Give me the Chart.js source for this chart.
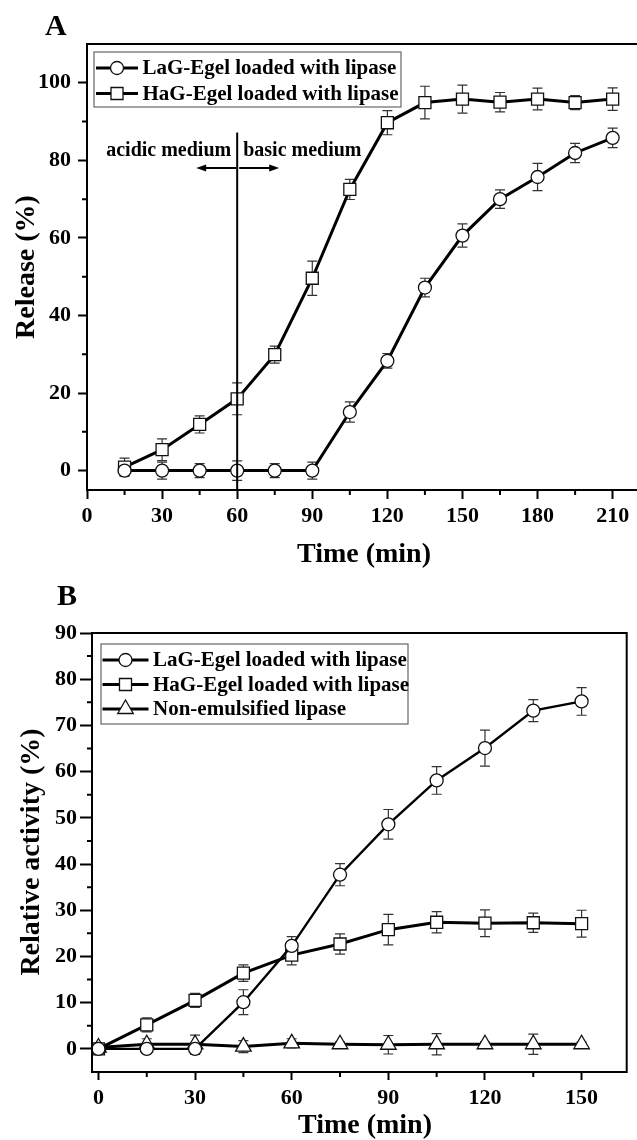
<!DOCTYPE html>
<html>
<head>
<meta charset="utf-8">
<script src="https://cdn.jsdelivr.net/npm/chart.js@4.4.1/dist/chart.umd.min.js"></script>
<style>
html, body { margin: 0; padding: 0; background: #fff; overflow: hidden; width: 637px; height: 1140px; }
canvas { position: absolute; left: 0; }
#chartA { top: 0; }
#chartB { top: 575px; }
</style>
</head>
<body>
<canvas id="chartA" width="660" height="575"></canvas>
<canvas id="chartB" width="637" height="565"></canvas>
<script>
/*********************** Data ************************/
// panel A - release
var timeA = [15, 30, 45, 60, 75, 90, 105, 120, 135, 150, 165, 180, 195, 210];
var lagRelease = [0, 0, 0, 0, 0, 0, 15.1, 28.3, 47.2, 60.6, 70.0, 75.7, 81.9, 85.8];
var lagReleaseErr = [1.2, 2.2, 1.8, 2.5, 1.8, 2.2, 2.6, 1.9, 2.4, 3.0, 2.4, 3.5, 2.5, 2.5];
var hagRelease = [0.9, 5.4, 11.9, 18.5, 29.9, 49.6, 72.5, 89.7, 94.9, 95.8, 95.0, 95.8, 94.9, 95.8];
var hagReleaseErr = [2.3, 2.8, 2.2, 4.1, 2.2, 4.4, 2.6, 3.1, 4.2, 3.6, 2.5, 2.8, 1.8, 2.9];

// panel B - relative activity
var timeB = [0, 15, 30, 45, 60, 75, 90, 105, 120, 135, 150];
var lagActivity = [0, 0, 0, 10.1, 22.3, 37.7, 48.6, 58.1, 65.1, 73.2, 75.2];
var lagActivityErr = [0.8, 1.0, 1.2, 2.7, 2.0, 2.4, 3.2, 3.0, 3.9, 2.4, 3.0];
var hagActivity = [0, 5.2, 10.5, 16.4, 20.3, 22.7, 25.8, 27.4, 27.2, 27.3, 27.1];
var hagActivityErr = [0.5, 1.5, 1.5, 1.8, 2.1, 2.2, 3.3, 2.3, 2.9, 2.1, 2.9];
var freeActivity = [0.3, 1.0, 1.0, 0.5, 1.2, 1.0, 0.9, 1.0, 1.0, 1.0, 1.0];
var freeActivityErr = [0.5, 1.2, 2.0, 1.3, 1.0, 0.5, 2.0, 2.3, 0.5, 2.2, 0.5];

var labelLaG = 'LaG-Egel loaded with lipase';
var labelHaG = 'HaG-Egel loaded with lipase';
var labelFree = 'Non-emulsified lipase';

var FONT = "'Liberation Serif', 'Times New Roman', serif";

Chart.defaults.font.family = FONT;
Chart.defaults.font.weight = 'bold';
Chart.defaults.font.size = 22;
Chart.defaults.color = '#000';
Chart.defaults.animation = false;

function points(xs, ys) {
    return xs.map(function (x, i) { return { x: x, y: ys[i] }; });
}

function drawMarker(ctx, style, r, x, y) {
    ctx.beginPath();
    if (style === 'rect') {
        var s = r * Math.SQRT1_2;
        ctx.rect(x - s, y - s, 2 * s, 2 * s);
    } else if (style === 'triangle') {
        for (var k = 0; k < 3; k++) {
            var a = k * 2 * Math.PI / 3;
            var px = x + Math.sin(a) * r, py = y - Math.cos(a) * r;
            if (k === 0) ctx.moveTo(px, py); else ctx.lineTo(px, py);
        }
        ctx.closePath();
    } else {
        ctx.arc(x, y, r, 0, Math.PI * 2);
    }
    ctx.fill();
    ctx.stroke();
}

/*********************** Plugins ************************/
// error bars, drawn under the markers
var errorBars = {
    id: 'errorBars',
    beforeDatasetsDraw: function (chart) {
        var ctx = chart.ctx, ys = chart.scales.y;
        ctx.save();
        ctx.strokeStyle = '#333';
        ctx.lineWidth = 1.2;
        chart.data.datasets.forEach(function (ds, di) {
            if (!ds.errors) return;
            var meta = chart.getDatasetMeta(di);
            meta.data.forEach(function (pt, i) {
                var v = ds.data[i].y, e = ds.errors[i];
                var top = ys.getPixelForValue(v + e), bot = ys.getPixelForValue(v - e);
                ctx.beginPath();
                ctx.moveTo(pt.x, top); ctx.lineTo(pt.x, bot);
                ctx.moveTo(pt.x - 5, top); ctx.lineTo(pt.x + 5, top);
                ctx.moveTo(pt.x - 5, bot); ctx.lineTo(pt.x + 5, bot);
                ctx.stroke();
            });
        });
        ctx.restore();
    }
};

// box frame + minor ticks
var frame = {
    id: 'frame',
    afterDraw: function (chart, args, o) {
        var ctx = chart.ctx, a = chart.chartArea;
        var xs = chart.scales.x, ys = chart.scales.y, v, p;
        ctx.save();
        ctx.strokeStyle = '#000';
        ctx.lineWidth = 2;
        ctx.strokeRect(a.left, a.top, a.right - a.left, a.bottom - a.top);
        ctx.beginPath();
        for (v = Math.ceil(xs.min / o.xMinor) * o.xMinor; v < xs.max; v += o.xMinor) {
            if (v <= xs.min || v % (2 * o.xMinor) === 0) continue;
            p = xs.getPixelForValue(v);
            ctx.moveTo(p, a.bottom); ctx.lineTo(p, a.bottom + o.minorLen);
        }
        for (v = Math.ceil(ys.min / o.yMinor) * o.yMinor; v < ys.max; v += o.yMinor) {
            if (v <= ys.min || v % (2 * o.yMinor) === 0) continue;
            p = ys.getPixelForValue(v);
            ctx.moveTo(a.left, p); ctx.lineTo(a.left - o.minorLen, p);
        }
        ctx.stroke();
        ctx.restore();
    }
};

// legend with line-marker-line samples inside a box
var boxLegend = {
    id: 'boxLegend',
    afterDraw: function (chart, args, o) {
        var ctx = chart.ctx;
        ctx.save();
        ctx.strokeStyle = '#666';
        ctx.lineWidth = 1.2;
        ctx.strokeRect(o.left, o.top, o.width, o.height);
        chart.data.datasets.forEach(function (ds, i) {
            var cy = o.firstRow + i * o.rowHeight;
            ctx.strokeStyle = '#000';
            ctx.lineWidth = 3;
            ctx.beginPath();
            ctx.moveTo(o.left + o.lineStart, cy);
            ctx.lineTo(o.left + o.lineStart + o.lineLength, cy);
            ctx.stroke();
            ctx.fillStyle = '#fff';
            ctx.strokeStyle = '#111';
            ctx.lineWidth = 1.3;
            drawMarker(ctx, ds.pointStyle, ds.pointRadius, o.left + o.lineStart + o.lineLength / 2, cy);
            ctx.fillStyle = '#000';
            ctx.font = 'bold ' + o.fontSize + 'px ' + FONT;
            ctx.textAlign = 'left';
            ctx.textBaseline = 'middle';
            ctx.fillText(ds.label, o.left + o.textStart, cy + 1);
        });
        ctx.restore();
    }
};

// panel letter and axis titles
var panelTitles = {
    id: 'panelTitles',
    afterDraw: function (chart, args, o) {
        var ctx = chart.ctx;
        ctx.save();
        ctx.fillStyle = '#000';
        ctx.font = 'bold 30px ' + FONT;
        ctx.textAlign = 'left';
        ctx.textBaseline = 'alphabetic';
        ctx.fillText(o.letter, o.letterX, o.letterY);
        ctx.font = 'bold 28px ' + FONT;
        ctx.textAlign = 'center';
        ctx.textBaseline = 'middle';
        ctx.fillText(o.xTitle, o.xTitleX, o.xTitleY);
        ctx.translate(o.yTitleX, o.yTitleY);
        ctx.rotate(-Math.PI / 2);
        ctx.fillText(o.yTitle, 0, 0);
        ctx.restore();
    }
};

// acidic / basic medium divider for panel A
var mediumNote = {
    id: 'mediumNote',
    afterDatasetsDraw: function (chart, args, o) {
        if (!o.at) return;
        var ctx = chart.ctx, xs = chart.scales.x, ys = chart.scales.y;
        var px = xs.getPixelForValue(o.at);
        ctx.save();
        ctx.strokeStyle = '#000';
        ctx.fillStyle = '#000';
        ctx.lineWidth = 2;
        ctx.beginPath();
        ctx.moveTo(px, chart.chartArea.bottom);
        ctx.lineTo(px, ys.getPixelForValue(o.lineTop));
        ctx.stroke();

        ctx.font = 'bold 20px ' + FONT;
        ctx.textBaseline = 'middle';
        var ty = ys.getPixelForValue(o.textAt);
        ctx.textAlign = 'right';
        ctx.fillText(o.leftText, px - 6, ty);
        ctx.textAlign = 'left';
        ctx.fillText(o.rightText, px + 6, ty);

        var ay = ys.getPixelForValue(o.arrowAt);
        [[px - 1, px - 41], [px + 2, px + 42]].forEach(function (seg) {
            var dir = seg[1] > seg[0] ? 1 : -1;
            ctx.beginPath();
            ctx.moveTo(seg[0], ay);
            ctx.lineTo(seg[1] - dir * 6, ay);
            ctx.stroke();
            ctx.beginPath();
            ctx.moveTo(seg[1], ay);
            ctx.lineTo(seg[1] - dir * 10, ay - 3.5);
            ctx.lineTo(seg[1] - dir * 10, ay + 3.5);
            ctx.closePath();
            ctx.fill();
        });
        ctx.restore();
    }
};

function series(label, xs, ys, errs, style, radius, width) {
    return {
        label: label,
        data: points(xs, ys),
        errors: errs,
        borderColor: '#000',
        borderWidth: width,
        pointStyle: style,
        pointRadius: radius,
        pointHoverRadius: radius,
        pointBackgroundColor: '#fff',
        pointBorderColor: '#111',
        pointBorderWidth: 1.3,
        tension: 0,
        fill: false
    };
}

function axis(min, max, step, size, isX, tickLen, pad) {
    return {
        type: 'linear',
        min: min,
        max: max,
        afterFit: function (s) { if (isX) s.height = size; else s.width = size; },
        border: { display: false },
        grid: { drawOnChartArea: false, drawTicks: true, tickLength: tickLen, tickWidth: 2, color: '#000' },
        ticks: { stepSize: step, includeBounds: false, padding: pad, maxRotation: 0, autoSkip: false, color: '#000' }
    };
}

/*********************** Chart A ************************/
new Chart(document.getElementById('chartA').getContext('2d'), {
    type: 'line',
    data: {
        datasets: [
            series(labelLaG, timeA, lagRelease, lagReleaseErr, 'circle', 6.5, 3),
            series(labelHaG, timeA, hagRelease, hagReleaseErr, 'rect', 8.5, 3)
        ]
    },
    options: {
        responsive: false,
        devicePixelRatio: 1,
        layout: { padding: { left: 0, top: 44, right: 6, bottom: 0 } },
        scales: {
            x: axis(0, 225, 30, 85, true, 9, 4),
            y: axis(-5, 110, 20, 87, false, 9, 7)
        },
        plugins: {
            legend: { display: false },
            tooltip: { enabled: false },
            frame: { xMinor: 15, yMinor: 10, minorLen: 5 },
            boxLegend: { left: 94, top: 52, width: 307, height: 55, firstRow: 68, rowHeight: 25.5,
                         lineStart: 2, lineLength: 42, textStart: 48.5, fontSize: 21 },
            panelTitles: { letter: 'A', letterX: 45, letterY: 35,
                           xTitle: 'Time (min)', xTitleX: 364, xTitleY: 555,
                           yTitle: 'Release (%)', yTitleX: 27, yTitleY: 267 },
            mediumNote: { at: 60, lineTop: 87.2, textAt: 82.5, arrowAt: 78,
                          leftText: 'acidic medium', rightText: 'basic medium' }
        }
    },
    plugins: [errorBars, frame, boxLegend, panelTitles, mediumNote]
});

/*********************** Chart B ************************/
new Chart(document.getElementById('chartB').getContext('2d'), {
    type: 'line',
    data: {
        datasets: [
            series(labelLaG, timeB, lagActivity, lagActivityErr, 'circle', 6.5, 2.4),
            series(labelHaG, timeB, hagActivity, hagActivityErr, 'rect', 8.5, 3),
            series(labelFree, timeB, freeActivity, freeActivityErr, 'triangle', 9, 3)
        ]
    },
    options: {
        responsive: false,
        devicePixelRatio: 1,
        layout: { padding: { left: 0, top: 58, right: 1, bottom: 0 } },
        scales: {
            x: axis(-2, 164, 30, 68, true, 8, 5),
            y: axis(-5, 90, 10, 92, false, 12, 3)
        },
        plugins: {
            legend: { display: false },
            tooltip: { enabled: false },
            frame: { xMinor: 15, yMinor: 5, minorLen: 5 },
            boxLegend: { left: 101, top: 69, width: 307, height: 80, firstRow: 85, rowHeight: 24.5,
                         lineStart: 1.5, lineLength: 46, textStart: 52, fontSize: 21 },
            panelTitles: { letter: 'B', letterX: 57, letterY: 30,
                           xTitle: 'Time (min)', xTitleX: 365, xTitleY: 551,
                           yTitle: 'Relative activity (%)', yTitleX: 32, yTitleY: 277 },
            mediumNote: {}
        }
    },
    plugins: [errorBars, frame, boxLegend, panelTitles, mediumNote]
});
</script>
</body>
</html>
